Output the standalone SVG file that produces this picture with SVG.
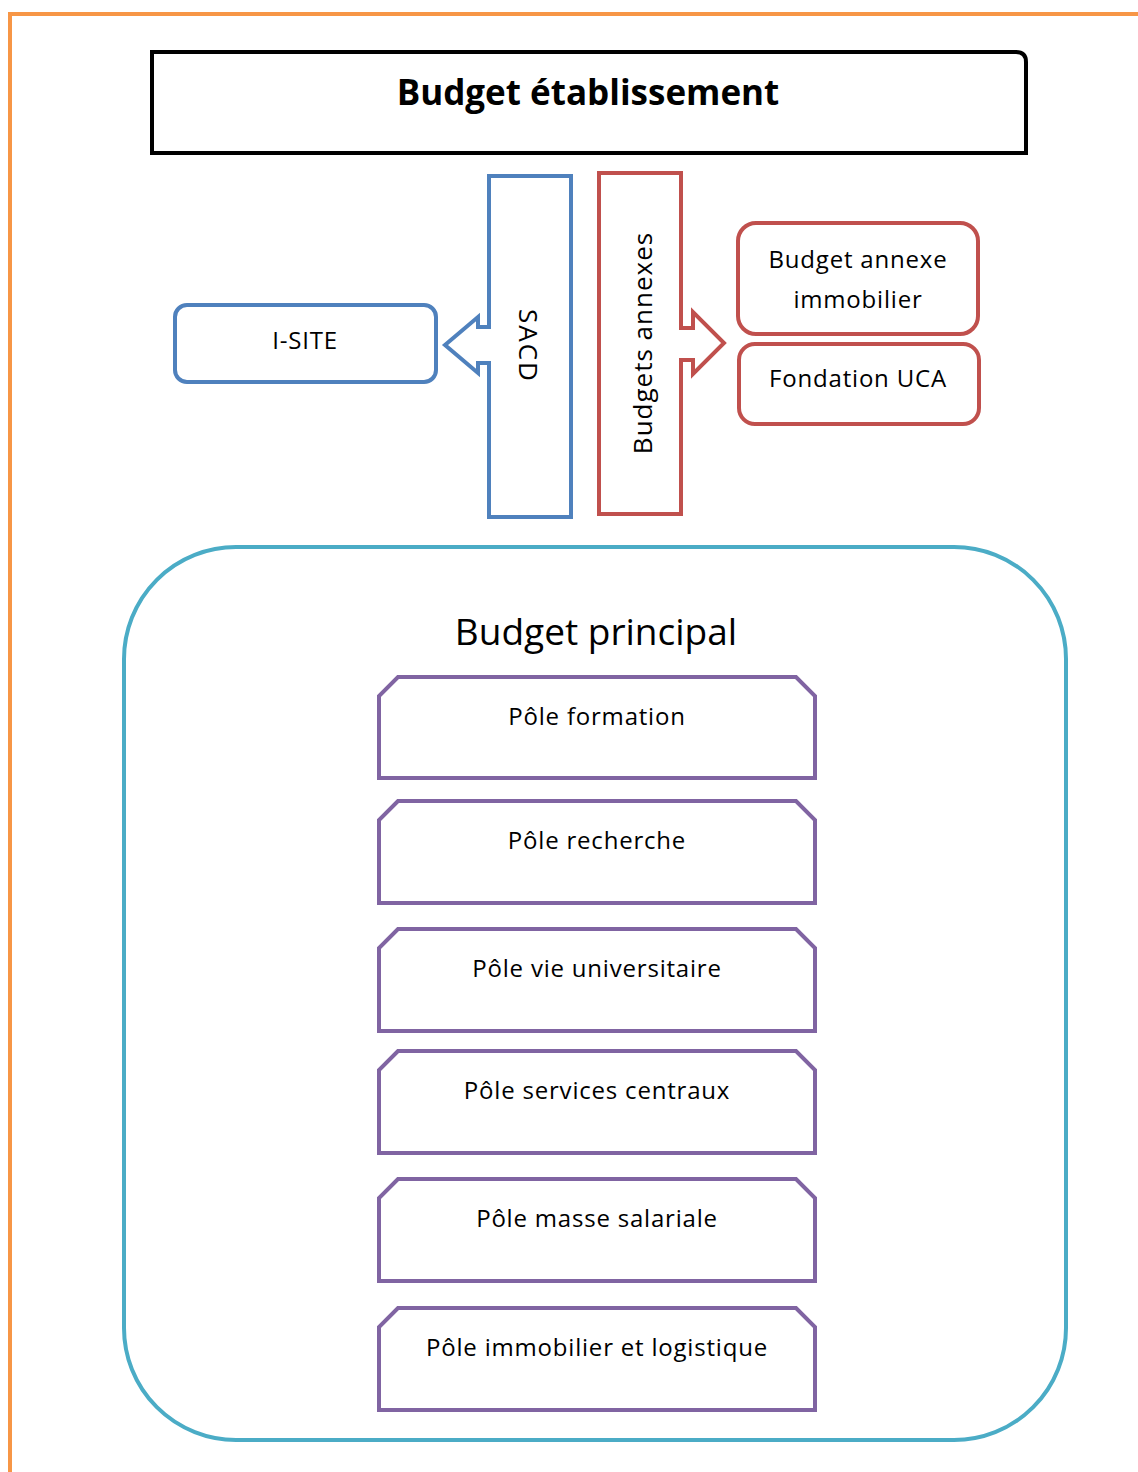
<svg xmlns="http://www.w3.org/2000/svg" width="1138" height="1472" viewBox="0 0 1138 1472">
<style>
text{font-family:"Open Sans","Noto Sans",sans-serif;fill:#000;text-anchor:middle}
.lbl{font-size:24px;letter-spacing:0.8px}
.pole{fill:#fff;stroke:#8064a2;stroke-width:4;stroke-linejoin:miter}
.blue{fill:#fff;stroke:#4f81bd;stroke-width:4}
.red{fill:#fff;stroke:#c0504d;stroke-width:4}
</style>
<rect width="1138" height="1472" fill="#fff"/>
<path d="M10,1472 L10,14 L1138,14" fill="none" stroke="#f79646" stroke-width="4"/>
<g id="budget-etablissement">
<path d="M152,52 L1016,52 Q1026,52 1026,62 L1026,153 L152,153 Z" fill="#fff" stroke="#000" stroke-width="4"/>
<text x="588" y="105" style="font-size:35px;font-weight:bold">Budget établissement</text>
</g>
<g id="connectors">
<g id="sacd">
<path class="blue" d="M489,176 L571,176 L571,517 L489,517 L489,363 L478,363 L478,373 L445,345 L478,317 L478,327 L489,327 Z"/>
<text transform="translate(519,346) rotate(90)" x="0" y="0" style="font-size:26px;letter-spacing:2px">SACD</text>
</g>
<g id="budgets-annexes">
<path class="red" d="M599,173 L681,173 L681,328 L693,328 L693,312 L724,343 L693,374 L693,360 L681,360 L681,514 L599,514 Z"/>
<text transform="translate(652,343) rotate(-90)" x="0" y="0" style="font-size:26px;letter-spacing:1px">Budgets annexes</text>
</g>
</g>
<g id="i-site">
<rect class="blue" x="175" y="305" width="261" height="77" rx="12"/>
<text class="lbl" x="305" y="349">I-SITE</text>
</g>
<g id="budget-annexe-immobilier">
<rect class="red" x="738" y="223" width="240" height="111" rx="18"/>
<text class="lbl" x="858" y="268">Budget annexe</text>
<text class="lbl" x="858" y="308">immobilier</text>
</g>
<g id="fondation-uca">
<rect class="red" x="739" y="344" width="240" height="80" rx="16"/>
<text class="lbl" x="858" y="387">Fondation UCA</text>
</g>
<g id="budget-principal">
<rect x="124" y="547" width="942" height="893" rx="112" fill="#fff" stroke="#4bacc6" stroke-width="4"/>
<text x="596" y="645" style="font-size:37px">Budget principal</text>
</g>
<g id="pole-formation">
<path class="pole" d="M379,778 L379,696 L398,677 L796,677 L815,696 L815,778 Z"/>
<text class="lbl" x="597" y="725">Pôle formation</text>
</g>
<g id="pole-recherche">
<path class="pole" d="M379,903 L379,820 L398,801 L796,801 L815,820 L815,903 Z"/>
<text class="lbl" x="597" y="849">Pôle recherche</text>
</g>
<g id="pole-vie-universitaire">
<path class="pole" d="M379,1031 L379,948 L398,929 L796,929 L815,948 L815,1031 Z"/>
<text class="lbl" x="597" y="977">Pôle vie universitaire</text>
</g>
<g id="pole-services-centraux">
<path class="pole" d="M379,1153 L379,1070 L398,1051 L796,1051 L815,1070 L815,1153 Z"/>
<text class="lbl" x="597" y="1099">Pôle services centraux</text>
</g>
<g id="pole-masse-salariale">
<path class="pole" d="M379,1281 L379,1198 L398,1179 L796,1179 L815,1198 L815,1281 Z"/>
<text class="lbl" x="597" y="1227">Pôle masse salariale</text>
</g>
<g id="pole-immobilier-logistique">
<path class="pole" d="M379,1410 L379,1327 L398,1308 L796,1308 L815,1327 L815,1410 Z"/>
<text class="lbl" x="597" y="1356">Pôle immobilier et logistique</text>
</g>
</svg>
